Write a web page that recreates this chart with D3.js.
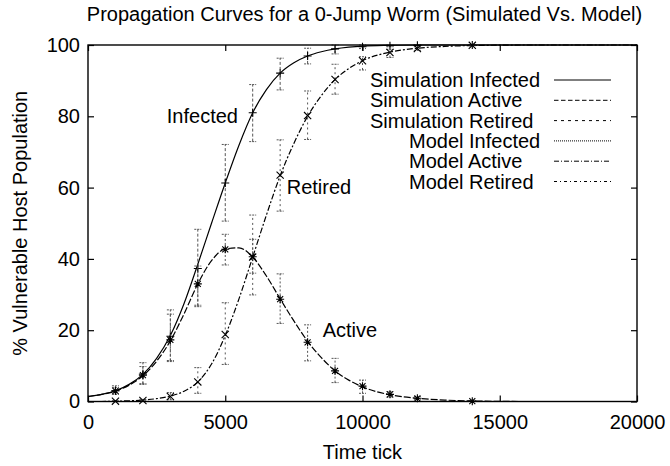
<!DOCTYPE html>
<html>
<head>
  <script src="https://d3js.org/d3.v7.min.js"></script>
  <style>
    body { margin: 0; background: #fff; }
    text { font-family: "Liberation Sans", Arial, sans-serif; fill: #000; }
  </style>
</head>
<body>
<script>
// Simulation samples (time tick) and their mean / error bars
var simTicks = [1000, 2000, 3000, 4000, 5000, 6000, 7000, 8000, 9000, 10000, 11000, 12000, 14000];
var simInfected = [3.0, 7.7, 18.3, 37.3, 61.3, 81.0, 92.1, 96.9, 98.9, 99.5, 99.8, 99.9, 100];
var simInfectedLo = [2.0, 4.8, 11.2, 26.6, 50.6, 72.9, 87.4, 94.7, 97.5, 99.0, 99.5, 99.7, 99.9];
var simInfectedHi = [4.4, 10.9, 25.7, 48.3, 72.1, 88.9, 96.3, 99.1, 100, 100, 100, 100, 100];
var simActive = [3.0, 7.4, 17.3, 33.0, 42.7, 40.6, 28.7, 16.6, 8.6, 4.3, 2.0, 0.9, 0.1];
var simActiveLo = [2.1, 5.0, 11.5, 27.0, 38.3, 36.0, 21.9, 11.4, 5.3, 2.3, 1.2, 0.5, 0.0];
var simActiveHi = [3.9, 9.8, 24.5, 38.0, 46.9, 45.5, 35.8, 21.5, 12.1, 6.0, 2.8, 1.4, 0.3];
var simRetired = [0.1, 0.3, 1.4, 5.5, 18.8, 40.5, 63.5, 80.2, 90.3, 95.6, 97.9, 99.0, 99.9];
var simRetiredLo = [0.0, 0.1, 0.5, 2.3, 10.4, 29.9, 53.4, 73.5, 86.2, 93.0, 96.5, 98.5, 99.8];
var simRetiredHi = [0.2, 0.6, 2.5, 9.5, 27.7, 52.3, 73.4, 87.1, 94.6, 96.7, 98.8, 99.5, 100];

// Model curves
var modelTicks = [0, 500, 1000, 1500, 2000, 2500, 3000, 3500, 4000, 4500, 5000, 5500, 6000, 6500, 7000,
  7500, 8000, 8500, 9000, 9500, 10000, 11000, 12000, 13000, 14000, 15000, 16000, 17000, 18000, 19000, 20000];
var modelInfected = [1.4, 2.0, 3.0, 4.8, 7.6, 12.1, 18.5, 27.5, 38.5, 50.0, 61.3, 71.9, 81.0, 87.5, 92.1,
  95.0, 96.9, 98.1, 98.9, 99.4, 99.7, 99.9, 100, 100, 100, 100, 100, 100, 100, 100, 100];
var modelActive = [1.4, 2.0, 2.9, 4.6, 7.2, 11.3, 17.0, 24.6, 33.0, 39.5, 42.8, 43.1, 40.5, 35.2, 28.8,
  22.6, 16.9, 12.3, 8.6, 6.0, 4.1, 1.9, 0.9, 0.4, 0.15, 0.05, 0, 0, 0, 0, 0];
var modelRetired = [0, 0, 0.1, 0.2, 0.4, 0.8, 1.5, 2.9, 5.5, 10.5, 18.5, 28.8, 40.5, 52.3, 63.3,
  72.4, 80.0, 85.8, 90.3, 93.4, 95.6, 98.0, 99.1, 99.6, 99.85, 99.95, 100, 100, 100, 100, 100];

var xTicks = [0, 5000, 10000, 15000, 20000];
var yTicks = [0, 20, 40, 60, 80, 100];

var legendLabels = ["Simulation Infected", "Simulation Active", "Simulation Retired",
  "Model Infected", "Model Active", "Model Retired"];

var curveLabels = [
  {text: "Infected", t: 2870, v: 78.1},
  {text: "Retired", t: 7240, v: 58.3},
  {text: "Active", t: 8550, v: 18.1}
];

var W = 670, H = 466;
var margin = {top: 45, right: 33, bottom: 64.5, left: 88};
var width = W - margin.left - margin.right;
var height = H - margin.top - margin.bottom;
var fontSize = "20px";

var svg = d3.select("body").append("svg")
  .attr("width", W)
  .attr("height", H);

var g = svg.append("g")
  .attr("transform", "translate(" + margin.left + "," + margin.top + ")");

var x = d3.scaleLinear().domain([0, 20000]).range([0, width]);
var y = d3.scaleLinear().domain([0, 100]).range([height, 0]);

// title
svg.append("text")
  .attr("x", 364.5)
  .attr("y", 21)
  .attr("text-anchor", "middle")
  .style("font-size", fontSize)
  .text("Propagation Curves for a 0-Jump Worm (Simulated Vs. Model)");

// axes, ticks pointing inwards and mirrored
g.append("g")
  .attr("transform", "translate(0," + height + ")")
  .call(d3.axisBottom(x).tickValues(xTicks).tickFormat(d3.format("d"))
    .tickSizeInner(-6).tickSizeOuter(0).tickPadding(13));
g.append("g")
  .call(d3.axisLeft(y).tickValues(yTicks).tickFormat(d3.format("d"))
    .tickSizeInner(-6).tickSizeOuter(0).tickPadding(8));
g.append("g")
  .call(d3.axisTop(x).tickValues(xTicks).tickSizeInner(-6).tickSizeOuter(0).tickFormat(""));
g.append("g")
  .attr("transform", "translate(" + width + ",0)")
  .call(d3.axisRight(y).tickValues(yTicks).tickSizeInner(-6).tickSizeOuter(0).tickFormat(""));

g.selectAll(".domain").remove();
g.selectAll(".tick line").attr("stroke", "#000").attr("stroke-width", 1.2);
g.selectAll(".tick text")
  .style("font-family", "'Liberation Sans', Arial, sans-serif")
  .style("font-size", fontSize)
  .attr("fill", "#000");

// axis titles
svg.append("text")
  .attr("x", margin.left + width / 2)
  .attr("y", 458.5)
  .attr("text-anchor", "middle")
  .style("font-size", fontSize)
  .text("Time tick");

svg.append("text")
  .attr("transform", "translate(27," + (margin.top + height / 2) + ") rotate(-90)")
  .attr("text-anchor", "middle")
  .style("font-size", fontSize)
  .text("% Vulnerable Host Population");

// clip for curves
svg.append("clipPath").attr("id", "plotClip")
  .append("rect").attr("x", 0).attr("y", -1).attr("width", width).attr("height", height + 2);

var plot = g.append("g").attr("clip-path", "url(#plotClip)");

// model curves
var line = d3.line()
  .x(function(d) { return x(d[0]); })
  .y(function(d) { return y(d[1]); })
  .curve(d3.curveMonotoneX);

var modelSeries = [
  {values: modelInfected, dash: null},
  {values: modelActive, dash: "7,2"},
  {values: modelRetired, dash: "6,2,2,2"}
];

modelSeries.forEach(function(s) {
  var pts = modelTicks.map(function(t, i) { return [t, s.values[i]]; });
  plot.append("path")
    .datum(pts)
    .attr("d", line)
    .attr("fill", "none")
    .attr("stroke", "#000")
    .attr("stroke-width", 1.2)
    .attr("stroke-dasharray", s.dash);
});

// simulation error bars and points
var simSeries = [
  {mean: simInfected, lo: simInfectedLo, hi: simInfectedHi, marker: "plus", dash: "3,2"},
  {mean: simActive, lo: simActiveLo, hi: simActiveHi, marker: "star", dash: "2,2"},
  {mean: simRetired, lo: simRetiredLo, hi: simRetiredHi, marker: "cross", dash: "2,3"}
];

function markerPath(type, s) {
  var plus = "M" + (-s) + ",0H" + s + "M0," + (-s) + "V" + s;
  var c = s * 0.9;
  var cross = "M" + (-c) + "," + (-c) + "L" + c + "," + c + "M" + (-c) + "," + c + "L" + c + "," + (-c);
  if (type === "plus") return plus;
  if (type === "cross") return cross;
  var d = s * 0.75;
  return plus + "M" + (-d) + "," + (-d) + "L" + d + "," + d + "M" + (-d) + "," + d + "L" + d + "," + (-d);
}

var cap = 3.5;
simSeries.forEach(function(s) {
  var bars = g.append("g");
  simTicks.forEach(function(t, i) {
    var cx = x(t), y0 = y(s.lo[i]), y1 = y(s.hi[i]);
    bars.append("line")
      .attr("x1", cx).attr("x2", cx).attr("y1", y0).attr("y2", y1)
      .attr("stroke", "#555").attr("stroke-width", 1)
      .attr("stroke-dasharray", s.dash);
    [y0, y1].forEach(function(yy) {
      bars.append("line")
        .attr("x1", cx - cap).attr("x2", cx + cap).attr("y1", yy).attr("y2", yy)
        .attr("stroke", "#555").attr("stroke-width", 1)
        .attr("stroke-dasharray", "2,1");
    });
  });

  g.append("g").selectAll("path")
    .data(simTicks)
    .join("path")
    .attr("transform", function(t, i) { return "translate(" + x(t) + "," + y(s.mean[i]) + ")"; })
    .attr("d", markerPath(s.marker, 4))
    .attr("fill", "none")
    .attr("stroke", "#000")
    .attr("stroke-width", 1.1);
});

// frame
g.append("rect")
  .attr("width", width)
  .attr("height", height)
  .attr("fill", "none")
  .attr("stroke", "#000")
  .attr("stroke-width", 1.4);

// curve labels
g.selectAll(".clabel")
  .data(curveLabels)
  .join("text")
  .attr("class", "clabel")
  .attr("x", function(d) { return x(d.t); })
  .attr("y", function(d) { return y(d.v); })
  .style("font-size", fontSize)
  .text(function(d) { return d.text; });

// legend
var legendDash = [null, "4.5,2.5", "3,4", "1,1", "5,2,1,2", "3,3,1,3"];
var legend = svg.append("g");
legendLabels.forEach(function(label, i) {
  var cy = 80 + i * 20.3;
  legend.append("text")
    .attr("x", i < 3 ? 370 : 409)
    .attr("y", cy + 7)
    .style("font-size", fontSize)
    .text(label);
  legend.append("line")
    .attr("x1", 554).attr("x2", 611)
    .attr("y1", cy).attr("y2", cy)
    .attr("stroke", "#000")
    .attr("stroke-width", 1)
    .attr("stroke-dasharray", legendDash[i]);
});
</script>
</body>
</html>
